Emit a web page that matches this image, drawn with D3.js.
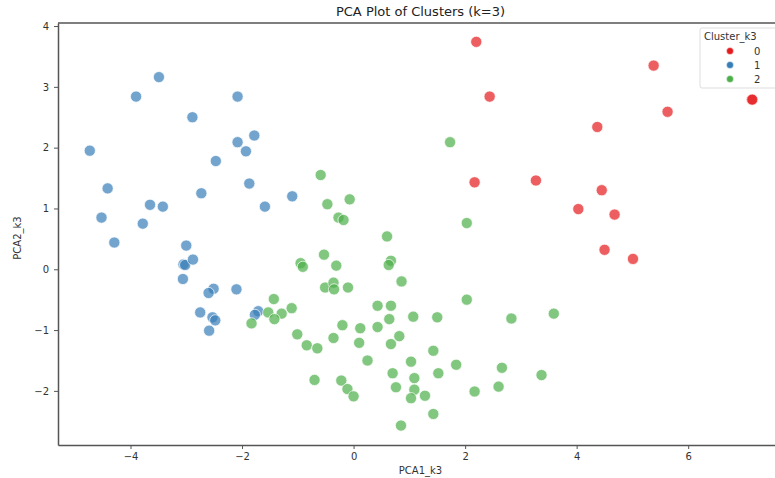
<!DOCTYPE html>
<html>
<head>
<meta charset="utf-8">
<script src="https://cdn.jsdelivr.net/npm/d3@7"></script>
<style>
  body { margin: 0; background: #fff; }
  text { font-family: "DejaVu Sans", sans-serif; }
</style>
</head>
<body>
<div id="chart"></div>
<script>
// cluster 0 (red)
const pca1_c0 = [2.20, 5.38, 2.44, 7.14, 7.15, 5.63, 4.37, 2.17, 3.27, 4.45, 4.03, 4.68, 4.50, 5.01];
const pca2_c0 = [3.74, 3.35, 2.84, 2.79, 2.79, 2.59, 2.34, 1.43, 1.46, 1.30, 0.99, 0.90, 0.32, 0.17];

// cluster 1 (blue)
const pca1_c1 = [-4.73, -3.49, -3.90, -2.08, -2.89, -2.08, -1.78, -1.93, -2.47, -1.87, -2.73, -4.41, -1.10, -1.59,
  -3.65, -3.42, -4.52, -3.78, -4.29, -3.00, -3.05, -3.02, -2.88, -3.06, -2.51, -2.60, -2.10, -2.75, -2.53, -2.48,
  -2.59, -1.71, -1.77];
const pca2_c1 = [1.95, 3.16, 2.84, 2.84, 2.50, 2.09, 2.20, 1.94, 1.78, 1.41, 1.25, 1.33, 1.20, 1.03,
  1.06, 1.03, 0.85, 0.75, 0.44, 0.39, 0.08, 0.07, 0.16, -0.16, -0.32, -0.39, -0.33, -0.71, -0.79, -0.84,
  -1.01, -0.69, -0.75];

// cluster 2 (green)
const pca1_c2 = [-0.59, -0.47, -0.07, -0.27, -0.18, 0.60, 1.73, 2.03, -0.53, -0.95, -0.91, -0.31, 0.67, 0.63,
  0.86, -0.51, -0.36, -0.35, -0.10, -1.43, 0.43, 0.67, -1.11, -1.53, -1.29, -1.42, -1.83, 1.07, 1.50, 0.64,
  -0.20, 0.12, 0.43, -1.01, 0.82, -0.36, -0.84, -0.65, 0.10, 0.67, 1.43, 0.25, 1.03, 0.70, 1.09, 1.52,
  -0.70, -0.22, -0.11, 0.00, 0.76, 1.09, 1.03, 1.28, 1.43, 0.85, 2.03, 2.83, 3.59, 1.84, 2.66, 3.37, 2.60, 2.17];
const pca2_c2 = [1.55, 1.07, 1.15, 0.85, 0.81, 0.54, 2.09, 0.76, 0.24, 0.10, 0.04, 0.06, 0.14, 0.07,
  -0.20, -0.30, -0.22, -0.33, -0.30, -0.49, -0.60, -0.60, -0.64, -0.71, -0.73, -0.82, -0.89, -0.78, -0.79, -0.82,
  -0.92, -0.97, -0.95, -1.07, -1.10, -1.13, -1.25, -1.30, -1.21, -1.23, -1.34, -1.50, -1.52, -1.71, -1.79, -1.71,
  -1.82, -1.83, -1.97, -2.09, -1.94, -1.98, -2.12, -2.08, -2.38, -2.57, -0.50, -0.81, -0.73, -1.57, -1.62, -1.74, -1.93, -2.01];

const clusters = ["0", "1", "2"];
const xTicks = [-4, -2, 0, 2, 4, 6];
const yTicks = [-2, -1, 0, 1, 2, 3, 4];

const colors = d3.scaleOrdinal()
    .domain(clusters)
    .range(["#e41a1c", "#377eb8", "#4daf4a"]);

let points = [];
[[pca1_c0, pca2_c0], [pca1_c1, pca2_c1], [pca1_c2, pca2_c2]].forEach((pair, c) => {
    for (let i = 0; i < pair[0].length; i++) {
        points.push({ x: pair[0][i], y: pair[1][i], cluster: clusters[c] });
    }
});

let margin = { top: 23, right: -8, bottom: 33, left: 58 },
    width = 775 - margin.left - margin.right,
    height = 478 - margin.top - margin.bottom;

let svg = d3.select("#chart").append("svg")
    .attr("width", 775)
    .attr("height", 478)
    .append("g")
    .attr("transform", "translate(" + margin.left + "," + margin.top + ")");

let x = d3.scaleLinear().domain([-5.3, 7.7]).range([0, width]);
let y = d3.scaleLinear().domain([-2.89, 4.05]).range([height, 0]);

// points
svg.selectAll("circle.pt")
    .data(points)
    .enter()
    .append("circle")
    .attr("class", "pt")
    .attr("cx", d => x(d.x))
    .attr("cy", d => y(d.y))
    .attr("r", 5.6)
    .attr("fill", d => colors(d.cluster))
    .attr("fill-opacity", 0.7)
    .attr("stroke", "#fff")
    .attr("stroke-width", 0.7);

// axes
let xAxis = svg.append("g")
    .attr("transform", "translate(0," + height + ")")
    .call(d3.axisBottom(x).tickValues(xTicks).tickSize(4).tickSizeOuter(0).tickPadding(4).tickFormat(d3.format("d")));
let yAxis = svg.append("g")
    .call(d3.axisLeft(y).tickValues(yTicks).tickSize(4).tickSizeOuter(0).tickPadding(5).tickFormat(d3.format("d")));

[xAxis, yAxis].forEach(a => {
    a.select(".domain").attr("stroke", "#555").attr("stroke-width", 1.5);
    a.selectAll(".tick line").attr("stroke", "#555");
    a.selectAll("text").attr("fill", "#333").style("font-size", "10px");
});

// top spine
svg.append("line")
    .attr("x1", 0).attr("x2", width)
    .attr("y1", 0).attr("y2", 0)
    .attr("stroke", "#555").attr("stroke-width", 1.5);

// title and labels
svg.append("text")
    .attr("x", width / 2)
    .attr("y", -7)
    .attr("text-anchor", "middle")
    .style("font-size", "13px")
    .attr("fill", "#222")
    .text("PCA Plot of Clusters (k=3)");

svg.append("text")
    .attr("x", width / 2)
    .attr("y", height + 29)
    .attr("text-anchor", "middle")
    .style("font-size", "10px")
    .attr("fill", "#333")
    .text("PCA1_k3");

svg.append("text")
    .attr("transform", "rotate(-90)")
    .attr("x", -(height / 2) - 4)
    .attr("y", -37)
    .attr("text-anchor", "middle")
    .style("font-size", "10px")
    .attr("fill", "#333")
    .text("PCA2_k3");

// legend
let legend = svg.append("g")
    .attr("transform", "translate(" + (700 - margin.left) + "," + (28 - margin.top) + ")");

legend.append("rect")
    .attr("width", 90)
    .attr("height", 60)
    .attr("rx", 2)
    .attr("fill", "#fff")
    .attr("fill-opacity", 0.85)
    .attr("stroke", "#ddd");

legend.append("text")
    .attr("x", 4)
    .attr("y", 12)
    .style("font-size", "10px")
    .attr("fill", "#333")
    .text("Cluster_k3");

clusters.forEach((c, i) => {
    legend.append("circle")
        .attr("cx", 30)
        .attr("cy", 23 + i * 14)
        .attr("r", 3.5)
        .attr("fill", colors(c))
        .attr("stroke", "#fff")
        .attr("stroke-width", 0.5);
    legend.append("text")
        .attr("x", 54)
        .attr("y", 26.5 + i * 14)
        .style("font-size", "10px")
        .attr("fill", "#333")
        .text(c);
});
</script>
</body>
</html>
